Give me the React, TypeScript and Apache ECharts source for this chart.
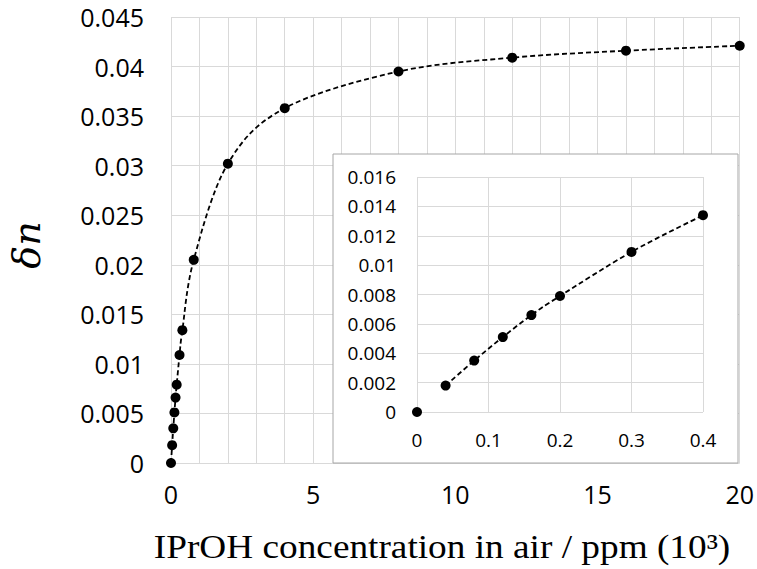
import React, { useEffect, useRef } from 'react';
import * as echarts from 'echarts';

// Main chart data (x in 10^3 ppm)
const mainX = [0, 0.04, 0.08, 0.12, 0.16, 0.2, 0.3, 0.4, 0.8, 2, 4, 8, 12, 16, 20];
const mainY = [0, 0.0018, 0.0035, 0.0051, 0.0066, 0.0079, 0.0109, 0.0134, 0.0205, 0.0302, 0.0358, 0.0395, 0.0409, 0.0416, 0.0421];

// Inset data
const insetX = [0, 0.04, 0.08, 0.12, 0.16, 0.2, 0.3, 0.4];
const insetY = [0, 0.0018, 0.0035, 0.0051, 0.0066, 0.0079, 0.0109, 0.0134];

const mainXTickLabels = [0, 5, 10, 15, 20];

const xTitle = 'IPrOH concentration in air / ppm (10³)';
const yTitle = 'δn';

// Smooth (Catmull-Rom style) path through pixel points
function smoothPath(pts: number[][]): string {
  if (pts.length < 2) return '';
  let d = `M${pts[0][0]},${pts[0][1]}`;
  const n = pts.length;
  for (let i = 0; i < n - 1; i++) {
    const p0 = pts[Math.max(i - 1, 0)];
    const p1 = pts[i];
    const p2 = pts[i + 1];
    const p3 = pts[Math.min(i + 2, n - 1)];
    const c1x = p1[0] + (p2[0] - p0[0]) / 6;
    const c1y = p1[1] + (p2[1] - p0[1]) / 6;
    const c2x = p2[0] - (p3[0] - p1[0]) / 6;
    const c2y = p2[1] - (p3[1] - p1[1]) / 6;
    d += ` C${c1x},${c1y} ${c2x},${c2y} ${p2[0]},${p2[1]}`;
  }
  return d;
}

function curveSeries(xs: number[], ys: number[], axisIndex: number, z: number) {
  return {
    type: 'custom',
    coordinateSystem: 'cartesian2d',
    xAxisIndex: axisIndex,
    yAxisIndex: axisIndex,
    z,
    clip: false,
    data: [[xs[0], ys[0]]],
    renderItem: (_params: any, api: any) => {
      const pts = xs.map((x, i) => api.coord([x, ys[i]]));
      return {
        type: 'path',
        shape: { pathData: smoothPath(pts) },
        style: { stroke: '#000', fill: 'none', lineWidth: 1.8, lineDash: [5, 3] },
      };
    },
  };
}

export default function App() {
  const ref = useRef<HTMLDivElement>(null);
  useEffect(() => {
    const chart = echarts.init(ref.current as HTMLDivElement, null, { renderer: 'svg' });
    const mainPts = mainX.map((x, i) => [x, mainY[i]]);
    const insetPts = insetX.map((x, i) => [x, insetY[i]]);
    const gridColor = '#d9d9d9';
    const font = 'Open Sans';
    chart.setOption({
      animation: false,
      textStyle: { fontFamily: font },
      grid: [
        { left: 171, top: 17, width: 569, height: 446 },
        { left: 417, top: 177, width: 286, height: 235 },
      ],
      xAxis: [
        {
          gridIndex: 0, type: 'value', min: 0, max: 20, interval: 1, z: 0,
          axisLine: { show: false }, axisTick: { show: false },
          splitLine: { show: true, lineStyle: { color: gridColor, width: 1 } },
          axisLabel: {
            color: '#000', fontSize: 25, fontFamily: font, margin: 18,
            formatter: (v: number) => (mainXTickLabels.includes(v) ? String(v) : ''),
          },
        },
        {
          gridIndex: 1, type: 'value', min: 0, max: 0.4, interval: 0.1, z: 6,
          axisLine: { show: false }, axisTick: { show: false },
          splitLine: { show: true, lineStyle: { color: gridColor, width: 1 } },
          axisLabel: { color: '#000', fontSize: 19, fontFamily: font, margin: 18 },
        },
      ],
      yAxis: [
        {
          gridIndex: 0, type: 'value', min: 0, max: 0.045, interval: 0.005, z: 0,
          axisLine: { show: false }, axisTick: { show: false },
          splitLine: { show: true, lineStyle: { color: gridColor, width: 1 } },
          axisLabel: { color: '#000', fontSize: 25, fontFamily: font, margin: 27 },
        },
        {
          gridIndex: 1, type: 'value', min: 0, max: 0.016, interval: 0.002, z: 6,
          axisLine: { show: false }, axisTick: { show: false },
          splitLine: { show: true, lineStyle: { color: gridColor, width: 1 } },
          axisLabel: { color: '#000', fontSize: 19, fontFamily: font, margin: 21 },
        },
      ],
      graphic: [
        {
          type: 'rect', z: 5,
          shape: { x: 333, y: 154, width: 405, height: 309 },
          style: { fill: '#ffffff', stroke: '#a6a6a6', lineWidth: 1 },
        },
        {
          type: 'text', z: 10, x: 442, y: 547, scaleX: 1.13,
          style: {
            text: xTitle, fontFamily: 'Liberation Serif', fontSize: 33, fill: '#000',
            align: 'center', verticalAlign: 'middle',
          },
        },
        {
          type: 'text', z: 10, x: 27, y: 245, rotation: Math.PI / 2,
          style: {
            text: yTitle, fontFamily: 'DejaVu Serif', fontStyle: 'italic', fontSize: 38, fill: '#000',
            align: 'center', verticalAlign: 'middle',
          },
        },
      ],
      series: [
        curveSeries(mainX, mainY, 0, 2),
        {
          type: 'scatter', xAxisIndex: 0, yAxisIndex: 0, data: mainPts, z: 3,
          symbol: 'circle', symbolSize: 10,
          itemStyle: { color: '#000', opacity: 1 },
        },
        curveSeries(insetX.slice(1), insetY.slice(1), 1, 7),
        {
          type: 'scatter', xAxisIndex: 1, yAxisIndex: 1, data: insetPts, z: 8,
          symbol: 'circle', symbolSize: 10,
          itemStyle: { color: '#000', opacity: 1 },
        },
      ],
    });
    return () => chart.dispose();
  }, []);
  return (
    <div
      ref={ref}
      style={{ position: 'fixed', left: 0, top: 0, width: 757, height: 569, background: '#fff' }}
    />
  );
}
